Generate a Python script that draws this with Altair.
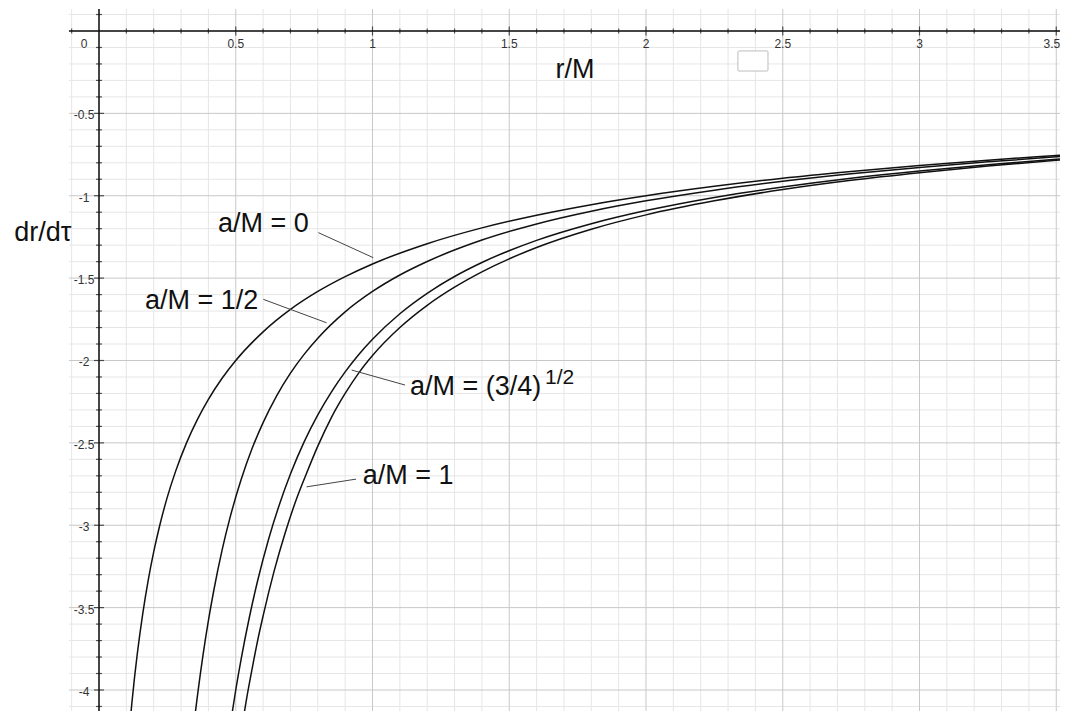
import altair as alt
import pandas as pd

# ---------------- data ----------------
# a/M = 0
r_a0 = [0.10, 0.11, 0.12, 0.13, 0.14, 0.16, 0.18, 0.20, 0.22, 0.25, 0.28, 0.32, 0.36,
        0.40, 0.45, 0.50, 0.60, 0.70, 0.80, 0.90, 1.00, 1.20, 1.40, 1.60, 1.80, 2.00,
        2.25, 2.50, 2.75, 3.00, 3.25, 3.50, 3.60]
v_a0 = [-4.472, -4.264, -4.082, -3.922, -3.780, -3.536, -3.333, -3.162, -3.015, -2.828,
        -2.673, -2.500, -2.357, -2.236, -2.108, -2.000, -1.826, -1.690, -1.581, -1.491,
        -1.414, -1.291, -1.195, -1.118, -1.054, -1.000, -0.943, -0.894, -0.853, -0.816,
        -0.784, -0.756, -0.745]

# a/M = 1/2
r_a1 = [0.30, 0.32, 0.34, 0.36, 0.38, 0.40, 0.42, 0.45, 0.48, 0.52, 0.56, 0.60, 0.65,
        0.70, 0.75, 0.80, 0.90, 1.00, 1.10, 1.20, 1.40, 1.60, 1.80, 2.00, 2.25, 2.50,
        2.75, 3.00, 3.25, 3.50, 3.60]
v_a1 = [-5.019, -4.638, -4.313, -4.034, -3.791, -3.579, -3.393, -3.151, -2.948, -2.721,
        -2.533, -2.377, -2.213, -2.077, -1.963, -1.865, -1.705, -1.581, -1.481, -1.399,
        -1.269, -1.171, -1.094, -1.031, -0.966, -0.912, -0.867, -0.828, -0.794, -0.764,
        -0.753]

# a/M = (3/4)^(1/2)
r_a2 = [0.46, 0.48, 0.50, 0.52, 0.55, 0.58, 0.62, 0.66, 0.70, 0.75, 0.80, 0.85, 0.90,
        0.95, 1.00, 1.10, 1.20, 1.30, 1.40, 1.60, 1.80, 2.00, 2.25, 2.50, 2.75, 3.00,
        3.25, 3.50, 3.60]
v_a2 = [-4.445, -4.211, -4.000, -3.810, -3.557, -3.337, -3.085, -2.872, -2.689, -2.494,
        -2.330, -2.190, -2.069, -1.963, -1.871, -1.716, -1.592, -1.490, -1.405, -1.271,
        -1.170, -1.090, -1.010, -0.947, -0.894, -0.850, -0.812, -0.779, -0.767]

# a/M = 1
r_a3 = [0.50, 0.52, 0.54, 0.56, 0.58, 0.60, 0.64, 0.68, 0.72, 0.76, 0.80, 0.85, 0.90,
        0.95, 1.00, 1.10, 1.20, 1.30, 1.40, 1.60, 1.80, 2.00, 2.25, 2.50, 2.75, 3.00,
        3.25, 3.50, 3.60]
v_a3 = [-4.470, -4.250, -4.050, -3.870, -3.700, -3.550, -3.280, -3.050, -2.850, -2.680,
        -2.520, -2.345, -2.200, -2.075, -1.970, -1.800, -1.665, -1.555, -1.462, -1.314,
        -1.203, -1.116, -1.031, -0.962, -0.906, -0.860, -0.820, -0.785, -0.773]

series_names = ["a/M = 0", "a/M = 1/2", "a/M = (3/4)^1/2", "a/M = 1"]

# axis tick labels
x_tick_vals = [0.5, 1.0, 1.5, 2.0, 2.5, 3.0]
x_tick_text = ["0.5", "1", "1.5", "2", "2.5", "3"]
x_last_val = [3.5]
x_last_text = ["3.5"]
y_tick_vals = [-0.5, -1.0, -1.5, -2.0, -2.5, -3.0, -3.5, -4.0]
y_tick_text = ["-0.5", "-1", "-1.5", "-2", "-2.5", "-3", "-3.5", "-4"]

# annotations (text, x, y) in data units
ann_text = ["a/M = 0", "a/M = 1/2", "a/M = 1", "r/M", "dr/dτ"]
ann_x = [0.601, 0.375, 1.130, 1.740, -0.205]
ann_y = [-1.220, -1.688, -2.750, -0.285, -1.275]

sup_main_text = ["a/M = (3/4)"]
sup_main_x = [1.137]
sup_main_y = [-2.210]
sup_text = ["1/2"]
sup_x = [1.631]
sup_y = [-2.140]

# leader lines (x, y) -> (x2, y2)
lead_x = [0.802, 0.601, 0.924, 0.759]
lead_y = [-1.224, -1.629, -2.058, -2.767]
lead_x2 = [1.003, 0.832, 1.119, 0.940]
lead_y2 = [-1.376, -1.771, -2.149, -2.720]

# small empty box
box_x, box_x2, box_y, box_y2 = [2.336], [2.446], [-0.121], [-0.243]

# ---------------- build tables ----------------
curves = pd.concat([
    pd.DataFrame({"r": r, "v": v, "s": n})
    for r, v, n in zip([r_a0, r_a1, r_a2, r_a3], [v_a0, v_a1, v_a2, v_a3], series_names)
])

minor_x = [round(i / 10, 1) for i in range(-1, 36) if i % 5 != 0]
major_x = [round(i / 10, 1) for i in range(0, 36, 5)]
minor_y = [round(-i / 10, 1) for i in range(-1, 42) if i % 5 != 0]
major_y = [round(-i / 10, 1) for i in range(0, 42, 5)]
major_tick_x = [v for v in major_x if v != 0]

XS = alt.Scale(domain=[-0.1097, 3.5137], nice=False, zero=False)
YS = alt.Scale(domain=[-4.1275, 0.1335], nice=False, zero=False)


def X(f):
    return alt.X(f, type="quantitative", scale=XS, axis=None)


def Y(f):
    return alt.Y(f, type="quantitative", scale=YS, axis=None)


FONT = "Liberation Sans"

g_minor_x = alt.Chart(pd.DataFrame({"g": minor_x})).mark_rule(color="#e6e6e6", strokeWidth=1).encode(x=X("g"))
g_minor_y = alt.Chart(pd.DataFrame({"g": minor_y})).mark_rule(color="#e6e6e6", strokeWidth=1).encode(y=Y("g"))
g_major_x = alt.Chart(pd.DataFrame({"g": major_x})).mark_rule(color="#c8c8c8", strokeWidth=1).encode(x=X("g"))
g_major_y = alt.Chart(pd.DataFrame({"g": major_y})).mark_rule(color="#c8c8c8", strokeWidth=1).encode(y=Y("g"))

box = alt.Chart(pd.DataFrame({"x": box_x, "x2": box_x2, "y": box_y, "y2": box_y2})).mark_rect(
    fill="white", stroke="#bdbdbd", strokeWidth=1, cornerRadius=1
).encode(x=X("x"), x2="x2", y=Y("y"), y2="y2")

zero = pd.DataFrame({"z": [0.0]})
axis_x = alt.Chart(zero).mark_rule(color="#111111", strokeWidth=1.5).encode(y=Y("z"))
axis_y = alt.Chart(zero).mark_rule(color="#111111", strokeWidth=1.5).encode(x=X("z"))

tick_x_minor = alt.Chart(pd.DataFrame({"t": minor_x, "z": 0.0})).mark_tick(
    orient="vertical", size=5, thickness=1.2, color="#111111").encode(x=X("t"), y=Y("z"))
tick_x_major = alt.Chart(pd.DataFrame({"t": major_tick_x, "z": 0.0})).mark_tick(
    orient="vertical", size=9, thickness=1.2, color="#111111").encode(x=X("t"), y=Y("z"))
tick_y_minor = alt.Chart(pd.DataFrame({"t": minor_y, "z": 0.0})).mark_tick(
    orient="horizontal", size=6, thickness=1.2, color="#111111").encode(y=Y("t"), x=X("z"))
tick_y_major = alt.Chart(pd.DataFrame({"t": y_tick_vals, "z": 0.0})).mark_tick(
    orient="horizontal", size=10, thickness=1.2, color="#111111").encode(y=Y("t"), x=X("z"))

lab_x = alt.Chart(pd.DataFrame({"t": x_tick_vals, "s": x_tick_text, "z": 0.0})).mark_text(
    font=FONT, fontSize=12, color="#333333", align="center", baseline="middle", dy=13
).encode(x=X("t"), y=Y("z"), text="s")
lab_last = alt.Chart(pd.DataFrame({"t": x_last_val, "s": x_last_text, "z": 0.0})).mark_text(
    font=FONT, fontSize=12, color="#333333", align="right", baseline="middle", dx=4, dy=13
).encode(x=X("t"), y=Y("z"), text="s")
lab_zero = alt.Chart(pd.DataFrame({"t": [0.0], "s": ["0"], "z": [0.0]})).mark_text(
    font=FONT, fontSize=12, color="#333333", align="center", baseline="middle", dx=-15, dy=13
).encode(x=X("t"), y=Y("z"), text="s")
lab_y = alt.Chart(pd.DataFrame({"t": y_tick_vals, "s": y_tick_text, "z": 0.0})).mark_text(
    font=FONT, fontSize=12, color="#333333", align="center", baseline="middle", dx=-15, dy=2
).encode(y=Y("t"), x=X("z"), text="s")

lines = alt.Chart(curves).mark_line(
    color="#111111", strokeWidth=1.5, clip=True, interpolate="monotone"
).encode(x=X("r"), y=Y("v"), detail="s:N", order="r:Q")

leaders = alt.Chart(pd.DataFrame({"x": lead_x, "y": lead_y, "x2": lead_x2, "y2": lead_y2})).mark_rule(
    color="#444444", strokeWidth=1
).encode(x=X("x"), y=Y("y"), x2="x2", y2="y2")

ann = alt.Chart(pd.DataFrame({"t": ann_text, "x": ann_x, "y": ann_y})).mark_text(
    font=FONT, fontSize=27, color="#111111", align="center", baseline="alphabetic"
).encode(x=X("x"), y=Y("y"), text="t")
ann_main = alt.Chart(pd.DataFrame({"t": sup_main_text, "x": sup_main_x, "y": sup_main_y})).mark_text(
    font=FONT, fontSize=27, color="#111111", align="left", baseline="alphabetic"
).encode(x=X("x"), y=Y("y"), text="t")
ann_sup = alt.Chart(pd.DataFrame({"t": sup_text, "x": sup_x, "y": sup_y})).mark_text(
    font=FONT, fontSize=21, color="#111111", align="left", baseline="alphabetic"
).encode(x=X("x"), y=Y("y"), text="t")

chart = alt.layer(
    g_minor_x, g_minor_y, g_major_x, g_major_y, box,
    axis_x, axis_y, tick_x_minor, tick_x_major, tick_y_minor, tick_y_major,
    lab_x, lab_last, lab_zero, lab_y, lines, leaders, ann, ann_main, ann_sup
).properties(
    width=991, height=702,
    autosize=alt.AutoSizeParams(type="none"),
    padding={"left": 61, "top": 1, "right": 0, "bottom": 0},
    background="white",
).configure_view(stroke=None)

chart.save("out.html", embed_options={"renderer": "svg", "actions": False})
